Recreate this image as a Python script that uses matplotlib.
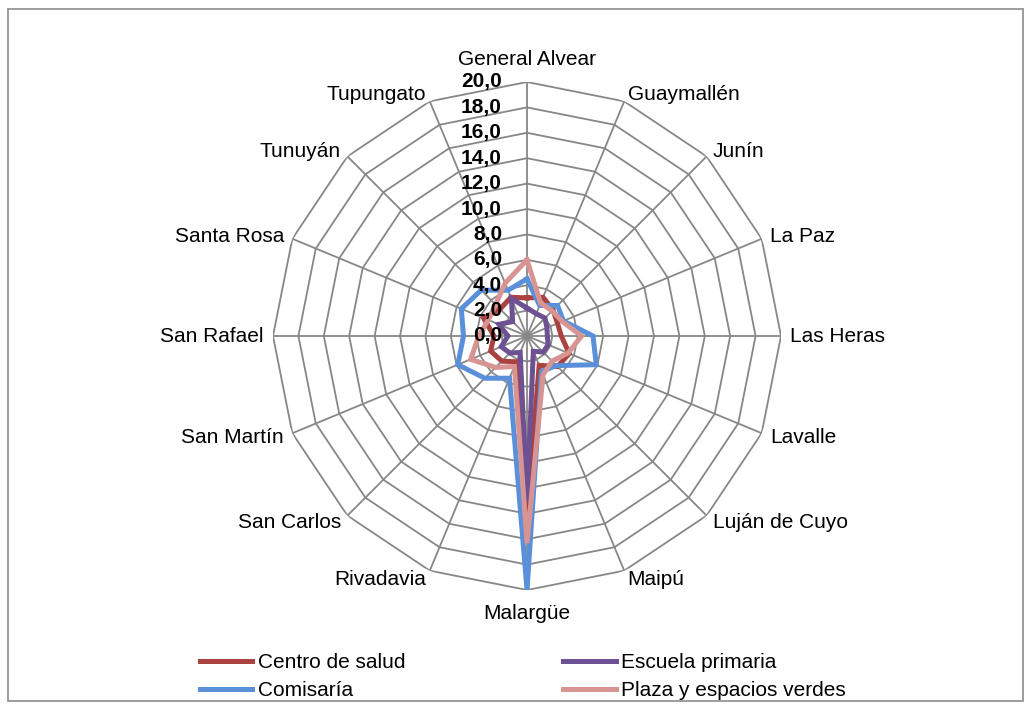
import numpy as np
import matplotlib
matplotlib.use("Agg")
import matplotlib.pyplot as plt
from matplotlib.patches import Rectangle

categories = ["General Alvear", "Guaymallén", "Junín", "La Paz", "Las Heras",
              "Lavalle", "Luján de Cuyo", "Maipú", "Malargüe", "Rivadavia",
              "San Carlos", "San Martín", "San Rafael", "Santa Rosa",
              "Tunuyán", "Tupungato"]
centro_salud = [3.0, 3.3, 2.9, 2.6, 2.7, 3.6, 3.4, 2.5, 14.0, 2.2, 2.8, 3.1, 2.6, 3.7, 3.0, 3.3]
comisaria = [4.5, 2.6, 3.4, 3.1, 5.2, 5.9, 3.3, 3.0, 20.0, 3.6, 4.7, 5.9, 5.0, 5.6, 5.1, 3.9]
escuela = [2.2, 1.9, 2.0, 1.7, 1.6, 1.8, 1.8, 1.3, 13.0, 1.4, 1.9, 2.2, 1.5, 2.4, 1.6, 3.2]
plaza = [6.0, 2.8, 2.8, 3.0, 4.3, 3.5, 2.8, 3.3, 16.3, 2.6, 3.5, 4.8, 3.8, 3.3, 3.5, 4.5]
series_names = ["Centro de salud", "Comisaría", "Escuela primaria", "Plaza y espacios verdes"]
ticks = [0, 2, 4, 6, 8, 10, 12, 14, 16, 18, 20]
tick_labels = ["0,0", "2,0", "4,0", "6,0", "8,0", "10,0", "12,0", "14,0", "16,0", "18,0", "20,0"]

colors = ["#AA423F", "#5A90DA", "#6D5193", "#D89492"]
grid_c = "#878787"

plt.rcParams["font.family"] = ["Liberation Sans", "DejaVu Sans"]
plt.rcParams["font.size"] = 15

fig = plt.figure(figsize=(10.32, 7.09), dpi=100)
W, H = 1032, 709
cx, cy, R = 527, 336, 254
ax = fig.add_axes([(cx - R) / W, (H - cy - R) / H, 2 * R / W, 2 * R / H], projection="polar")
ax.set_theta_offset(np.pi / 2)
ax.set_theta_direction(-1)
ax.set_ylim(0, 20)
ax.grid(False)
ax.spines["polar"].set_visible(False)
ax.set_xticks([])
ax.set_yticks([])
ax.patch.set_alpha(0)

n = len(categories)
theta = np.arange(n) * 2 * np.pi / n
theta_c = np.append(theta, theta[0])

# polygon rings + spokes
for t in ticks[1:]:
    ax.plot(theta_c, [t] * (n + 1), color=grid_c, lw=1.3, zorder=1)
for th in theta:
    ax.plot([th, th], [0, 20], color=grid_c, lw=1.3, zorder=1)

lines = []
for vals, c, name in zip([centro_salud, comisaria, escuela, plaza], colors, series_names):
    v = list(vals) + [vals[0]]
    ln, = ax.plot(theta_c, v, color=c, lw=3.6, label=name, zorder=3,
                  solid_joinstyle="miter")
    lines.append(ln)

# radial tick labels along top spoke
for t, lab in zip(ticks, tick_labels):
    ax.annotate(lab, xy=(0, t), xytext=(-18, 0), textcoords="offset points",
                ha="right", va="center", fontweight="bold", fontsize=15, zorder=5)

# category labels
for th, lab in zip(theta, categories):
    s, c = np.sin(th), np.cos(th)
    if abs(s) < 0.1:
        ha = "center"
        va = "bottom" if c > 0 else "top"
        off = (0, 9.5 if c > 0 else -10)
    else:
        ha = "left" if s > 0 else "right"
        va = "center"
        off = (6.5 * s, 5.8 * c - 0.7)
    ax.annotate(lab, xy=(th, 20), xytext=off, textcoords="offset points",
                ha=ha, va=va, fontsize=15)

fig.legend(handles=lines, labels=series_names, ncol=2, loc="upper left",
           bbox_to_anchor=(192 / W, 1 - 645 / H), frameon=False,
           handlelength=2.5, handletextpad=0.25, columnspacing=7.6,
           labelspacing=0.42, borderaxespad=0, fontsize=15)

fig.patches.append(Rectangle((8 / W, 8 / H), 1015 / W, 692 / H, transform=fig.transFigure,
                             fill=False, edgecolor="#8c8c8c", lw=1.2))

fig.savefig("out.png", dpi=100)
